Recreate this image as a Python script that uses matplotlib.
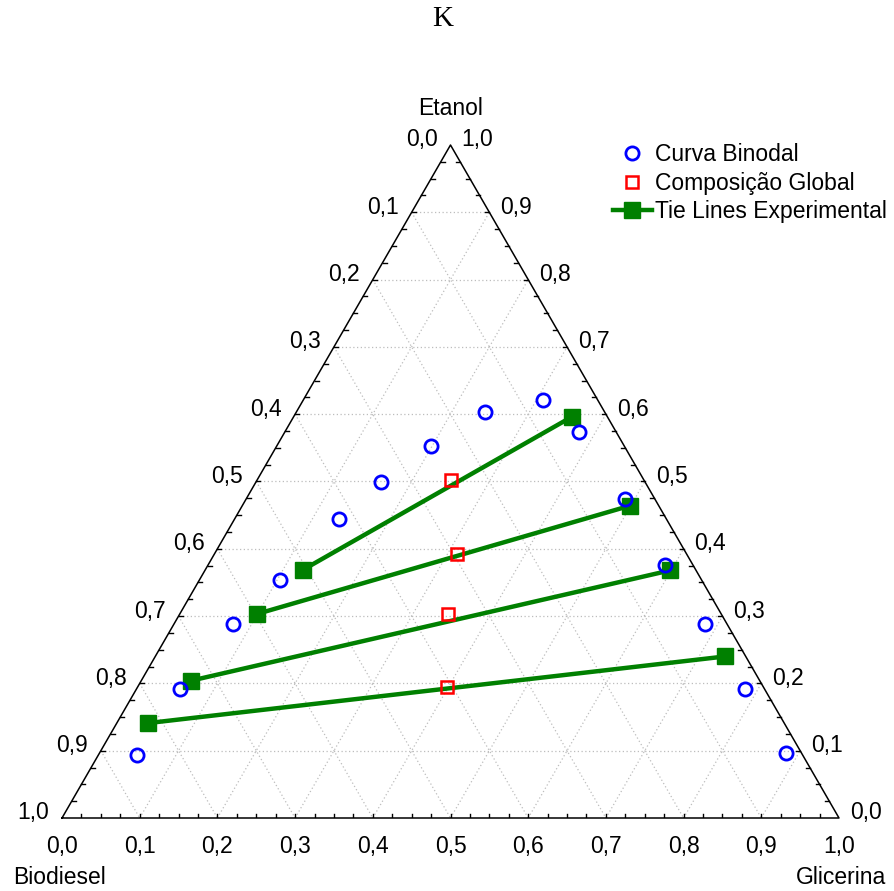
import numpy as np
import matplotlib
matplotlib.use("Agg")
import matplotlib.pyplot as plt

plt.rcParams['font.family'] = ['Liberation Sans', 'DejaVu Sans']

# Mass fractions (Glicerina, Etanol); Biodiesel = 1 - G - E
binodal_G = [0.050, 0.056, 0.075, 0.103, 0.134, 0.161, 0.199, 0.243, 0.308,
             0.379, 0.488, 0.588, 0.683, 0.784, 0.883]
binodal_E = [0.094, 0.191, 0.289, 0.354, 0.444, 0.499, 0.553, 0.603, 0.621,
             0.573, 0.474, 0.376, 0.289, 0.191, 0.097]

global_G = [0.249, 0.313, 0.345, 0.398]
global_E = [0.502, 0.392, 0.303, 0.195]

# tie lines: biodiesel-rich end -> glycerol-rich end
tie_G_left = [0.126, 0.099, 0.064, 0.040]
tie_E_left = [0.369, 0.303, 0.204, 0.141]
tie_G_right = [0.358, 0.499, 0.599, 0.733]
tie_E_right = [0.596, 0.464, 0.368, 0.240]

ticks = np.round(np.arange(0, 1.01, 0.1), 1)
tick_labels = [f"{t:.1f}".replace(".", ",") for t in ticks]

H = np.sqrt(3) / 2


def tern(g, e):
    g = np.asarray(g, dtype=float)
    e = np.asarray(e, dtype=float)
    return g + e / 2, e * H


W, Hpx = 894, 891
fig = plt.figure(figsize=(W / 100, Hpx / 100), dpi=100)
# triangle spans x 62..839 px, y 145..818 px (from top)
ax = fig.add_axes([62 / W, (Hpx - 818) / Hpx, 777 / W, 673 / Hpx])
ax.set_xlim(0, 1)
ax.set_ylim(0, H)
ax.axis('off')

# grid
for v in np.arange(0.1, 1.0, 0.1):
    # constant Etanol
    x, y = tern([0, 1 - v], [v, v])
    ax.plot(x, y, color='#bdbdbd', lw=0.9, ls=(0, (1, 2)), zorder=1)
    # constant Glicerina
    x, y = tern([v, v], [0, 1 - v])
    ax.plot(x, y, color='#bdbdbd', lw=0.9, ls=(0, (1, 2)), zorder=1)
    # constant Biodiesel
    x, y = tern([0, 1 - v], [1 - v, 0])
    ax.plot(x, y, color='#bdbdbd', lw=0.9, ls=(0, (1, 2)), zorder=1)

# triangle outline
x, y = tern([0, 1, 0, 0], [0, 0, 1, 0])
ax.plot(x, y, color='black', lw=1.1, zorder=3, clip_on=False)

# small inward ticks every 0.025
tl = 4 / 777
for v in np.arange(0.025, 1.0, 0.025):
    ax.plot([v, v], [0, tl], color='black', lw=1, zorder=3)
    xl, yl = tern(0, v)
    ax.plot([xl, xl + tl], [yl, yl], color='black', lw=1, zorder=3)
    xr, yr = tern(1 - v, v)
    ax.plot([xr, xr - tl], [yr, yr], color='black', lw=1, zorder=3)

fs = 16.5
px = 1 / 777
for t, lab in zip(ticks, tick_labels):
    # bottom: Glicerina
    ax.text(t, -17 * px, lab, ha='center', va='top', fontsize=fs)
    # left: Biodiesel (Etanol = 1 - t on the left edge)
    xl, yl = tern(0, 1 - t)
    ax.text(xl - 13 * px, yl + 5 * px, lab, ha='right', va='center', fontsize=fs)
    # right: Etanol
    xr, yr = tern(1 - t, t)
    ax.text(xr + 11 * px, yr + 5 * px, lab, ha='left', va='center', fontsize=fs)

xt, yt = tern(0, 1)
ax.text(xt, yt + 36 * px, "Etanol", ha='center', va='center', fontsize=fs)
fig.text(13 / W, 1 - 878 / Hpx, "Biodiesel", ha='left', va='center', fontsize=fs)
fig.text(886 / W, 1 - 878 / Hpx, "Glicerina", ha='right', va='center', fontsize=fs)
fig.text(443 / W, 1 - 19 / Hpx, "K", ha='center', va='center', fontsize=21,
         family='Liberation Serif')

# data
bx, by = tern(binodal_G, binodal_E)
h1, = ax.plot(bx, by, 'o', ls='none', mfc='none', mec='#0000ff', ms=9.5, mew=2,
              zorder=5, clip_on=False, label='Curva Binodal')
gx, gy = tern(global_G, global_E)
h2, = ax.plot(gx, gy, 's', ls='none', mfc='none', mec='#ff0000', ms=9, mew=1.8,
              zorder=5, clip_on=False, label='Composição Global')
for i in range(len(tie_G_left)):
    lx, ly = tern([tie_G_left[i], tie_G_right[i]], [tie_E_left[i], tie_E_right[i]])
    h3, = ax.plot(lx, ly, '-s', color='#008000', lw=3.2, ms=11.5, zorder=4,
                  clip_on=False, label='Tie Lines Experimental')

leg = fig.legend(handles=[h1, h2, h3], loc='upper left',
                 bbox_to_anchor=(613 / W, 1 - 143 / Hpx), frameon=False,
                 fontsize=fs, handlelength=1.7, handletextpad=0.13,
                 labelspacing=0.25, borderpad=0, borderaxespad=0)

fig.savefig('out.png', dpi=100)
